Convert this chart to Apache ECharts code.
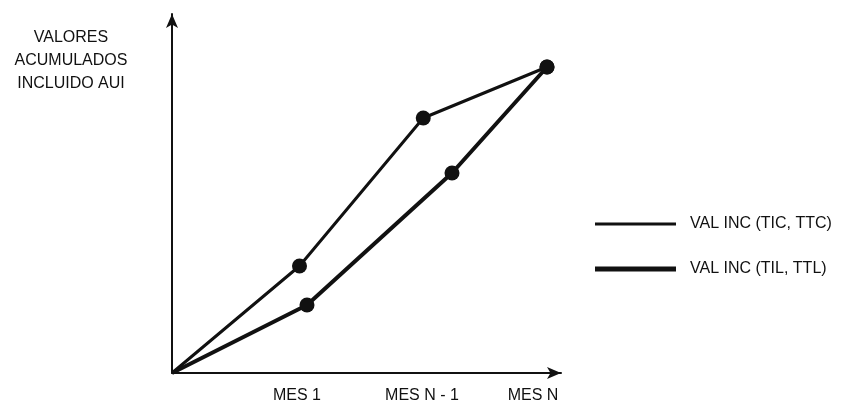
<!DOCTYPE html>
<html><head><meta charset="utf-8">
<script src="https://cdn.jsdelivr.net/npm/echarts@6/dist/echarts.min.js"></script>
<style>html,body{margin:0;padding:0;background:#fff}#c{width:844px;height:408px}</style>
</head><body><div id="c"></div>
<script>
// Data (x in month units: 0 = origin, 1 = MES 1, 2 = MES N - 1, 3 = MES N)
const xTickLabels = ['', 'MES 1', 'MES N - 1', 'MES N'];
const seriesNames = ['VAL INC (TIC, TTC)', 'VAL INC (TIL, TTL)'];
const s1X = [0, 1.02, 2.01, 3.0];
const s1Y = [0, 107, 255, 306];
const s2X = [0, 1.08, 2.24, 3.0];
const s2Y = [0, 68, 200, 306];
const yTitle = 'VALORES\nACUMULADOS\nINCLUIDO AUI';

const font = '"Liberation Sans", Arial, sans-serif';
function pts(xs, ys) {
  return xs.map((x, i) => ({ value: [x, ys[i]], symbolSize: i === 0 ? 0 : 15 }));
}
const chart = echarts.init(document.getElementById('c'));
chart.setOption({
  animation: false,
  backgroundColor: '#fff',
  grid: { left: 172, right: 283, top: 14, bottom: 35 },
  xAxis: {
    type: 'value', min: 0, max: 3.112, interval: 1,
    splitLine: { show: false },
    axisTick: { show: false },
    axisLine: { lineStyle: { color: '#111', width: 2 }, symbol: ['none', 'arrow'], symbolSize: [9, 14] },
    axisLabel: {
      showMaxLabel: false, color: '#111', fontFamily: font, fontSize: 16, margin: 15,
      formatter: v => {
        const i = Math.round(v);
        const t = xTickLabels[i] || '';
        if (!t) return '';
        return i === xTickLabels.length - 1 ? '{e|' + t + '}' : t;
      },
      rich: { e: { fontFamily: font, fontSize: 16, color: '#111', padding: [0, 28, 0, 0] } }
    }
  },
  yAxis: {
    type: 'value', min: 0, max: 359,
    splitLine: { show: false },
    axisTick: { show: false },
    axisLabel: { show: false },
    axisLine: { lineStyle: { color: '#111', width: 2 }, symbol: ['none', 'arrow'], symbolSize: [9, 14] }
  },
  legend: [
    { data: [seriesNames[0]], left: 595, top: 216, padding: 0, icon: 'rect', itemWidth: 81, itemHeight: 3,
      textStyle: { color: '#111', fontFamily: font, fontSize: 16, padding: [0, 0, 0, 9] } },
    { data: [seriesNames[1]], left: 595, top: 261, padding: 0, icon: 'rect', itemWidth: 81, itemHeight: 5,
      textStyle: { color: '#111', fontFamily: font, fontSize: 16, padding: [0, 0, 0, 9] } }
  ],
  graphic: [{
    type: 'text', x: 71, y: 26,
    style: { text: yTitle, fill: '#111', font: '16px ' + font, align: 'center', lineHeight: 23 }
  }],
  series: [
    { name: seriesNames[0], type: 'line', data: pts(s1X, s1Y), symbol: 'circle',
      lineStyle: { color: '#111', width: 3 }, itemStyle: { color: '#111' } },
    { name: seriesNames[1], type: 'line', data: pts(s2X, s2Y), symbol: 'circle',
      lineStyle: { color: '#111', width: 4 }, itemStyle: { color: '#111' } }
  ]
});
</script></body></html>
